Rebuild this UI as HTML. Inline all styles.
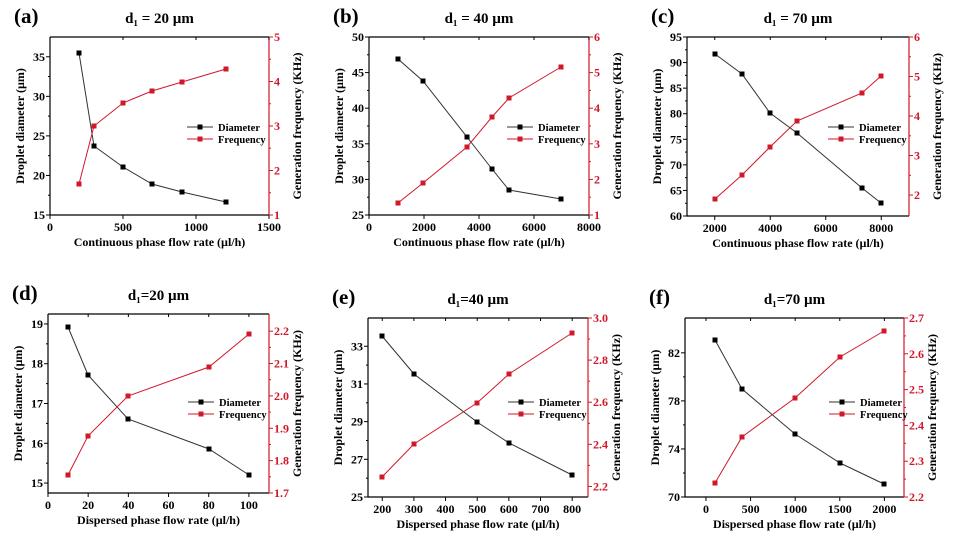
<!DOCTYPE html>
<html><head><meta charset="utf-8"><style>
html,body{margin:0;padding:0;background:#fff;width:955px;height:536px;overflow:hidden}
svg{display:block}
text{font-family:"Liberation Serif",serif;font-weight:bold}
</style></head><body>
<svg id="s" width="955" height="536" viewBox="0 0 955 536" xmlns="http://www.w3.org/2000/svg"></svg>
<script>
const R="#d0182a";
const P=[
{L:"(a)",T:"d\u2081 = 20 \u00b5m",xl:"Continuous phase flow rate (\u00b5l/h)",
 x0:50,x1:269,y0:37,y1:215,X:[0,1500],Y:[15,37.5],Y2:[1,5],
 xt:[0,500,1000,1500],yt:[15,20,25,30,35],y2t:[1,2,3,4,5],f2:0,
 D:[[79,53],[94,146],[123,167],[152,184],[182,192],[226,202]],
 F:[[79,184],[94,126],[123,103],[152,91],[182,82],[226,69]],lx:187,ly:127},
{L:"(b)",T:"d\u2081 = 40 \u00b5m",xl:"Continuous phase flow rate (\u00b5l/h)",
 x0:369,x1:589,y0:37,y1:215,X:[0,8000],Y:[25,50],Y2:[1,6],
 xt:[0,2000,4000,6000,8000],yt:[25,30,35,40,45,50],y2t:[1,2,3,4,5,6],f2:0,
 D:[[398,59],[423,81],[467,137],[492,169],[509,190],[561,199]],
 F:[[398,203],[423,183],[467,147],[492,117],[509,98],[561,67]],lx:507,ly:127},
{L:"(c)",T:"d\u2081 = 70 \u00b5m",xl:"Continuous phase flow rate (\u00b5l/h)",
 x0:687,x1:909,y0:37,y1:216,X:[1000,9000],Y:[60,95],Y2:[1.47,6],
 xt:[2000,4000,6000,8000],yt:[60,65,70,75,80,85,90,95],y2t:[2,3,4,5,6],f2:0,
 D:[[715,54],[742,74],[770,113],[797,133],[862,188],[881,203]],
 F:[[715,199],[742,175],[770,147],[797,121],[862,93],[881,76]],lx:828,ly:127},
{L:"(d)",T:"d\u2081=20 \u00b5m",xl:"Dispersed phase flow rate (\u00b5l/h)",
 x0:48,x1:269,y0:314,y1:493,X:[0,110],Y:[14.75,19.25],Y2:[1.7,2.253],
 xt:[0,20,40,60,80,100],yt:[15,16,17,18,19],y2t:[1.7,1.8,1.9,2.0,2.1,2.2],f2:1,
 D:[[68,327],[88,375],[128,419],[209,449],[249,475]],
 F:[[68,475],[88,436],[128,396],[209,367],[249,334]],lx:188,ly:402},
{L:"(e)",T:"d\u2081=40 \u00b5m",xl:"Dispersed phase flow rate (\u00b5l/h)",
 x0:368,x1:588,y0:318,y1:497,X:[155,850],Y:[25,34.5],Y2:[2.15,3.0],
 xt:[200,300,400,500,600,700,800],yt:[25,27,29,31,33],y2t:[2.2,2.4,2.6,2.8,3.0],f2:1,
 D:[[382,336],[414,374],[477,422],[509,443],[572,475]],
 F:[[382,477],[414,444],[477,403],[509,374],[572,333]],lx:508,ly:402},
{L:"(f)",T:"d\u2081=70 \u00b5m",xl:"Dispersed phase flow rate (\u00b5l/h)",
 x0:685,x1:904,y0:318,y1:497,X:[-235,2220],Y:[70,84.9],Y2:[2.2,2.7],
 xt:[0,500,1000,1500,2000],yt:[70,74,78,82],y2t:[2.2,2.3,2.4,2.5,2.6,2.7],f2:1,
 D:[[715,340],[742,389],[795,434],[840,463],[884,484]],
 F:[[715,483],[742,437],[795,398],[840,357],[884,331]],lx:829,ly:402}
];
let h="";
for(const p of P){
 const sx=v=>p.x0+(v-p.X[0])/(p.X[1]-p.X[0])*(p.x1-p.x0);
 const sy=v=>p.y1-(v-p.Y[0])/(p.Y[1]-p.Y[0])*(p.y1-p.y0);
 const sy2=v=>p.y1-(v-p.Y2[0])/(p.Y2[1]-p.Y2[0])*(p.y1-p.y0);
 const cx=(p.x0+p.x1)/2;
 h+=`<text x="${p.x0-36}" y="${p.y0-14}" font-size="21">${p.L}</text>`;
 h+=`<text x="${cx}" y="${p.y0-14}" font-size="15" text-anchor="middle">${p.T}</text>`;
 h+=`<path d="M${p.x0} ${p.y0}H${p.x1}M${p.x0} ${p.y0}V${p.y1}H${p.x1}" stroke="#000" stroke-width="1.2" fill="none"/>`;
 h+=`<line x1="${p.x1}" y1="${p.y0}" x2="${p.x1}" y2="${p.y1}" stroke="${R}" stroke-width="1.2"/>`;
 for(const t of p.xt){const x=sx(t);h+=`<line x1="${x}" y1="${p.y1}" x2="${x}" y2="${p.y1+4}" stroke="#000"/><line x1="${x}" y1="${p.y0}" x2="${x}" y2="${p.y0+3}" stroke="#000"/><text x="${x}" y="${p.y1+16}" font-size="12" text-anchor="middle">${t}</text>`;}
 for(const t of p.yt){const y=sy(t);h+=`<line x1="${p.x0-4}" y1="${y}" x2="${p.x0}" y2="${y}" stroke="#000"/><text x="${p.x0-5}" y="${y+4}" font-size="12" text-anchor="end">${t}</text>`;}
 for(let i=0;i<p.yt.length-1;i++){const y=sy((p.yt[i]+p.yt[i+1])/2);h+=`<line x1="${p.x0-2}" y1="${y}" x2="${p.x0}" y2="${y}" stroke="#000"/>`;}
 for(const t of p.y2t){const y=sy2(t);h+=`<line x1="${p.x1}" y1="${y}" x2="${p.x1+4}" y2="${y}" stroke="${R}"/><text x="${p.x1+5}" y="${y+4}" font-size="12" fill="${R}">${p.f2?t.toFixed(1):t}</text>`;}
 for(let i=0;i<p.y2t.length-1;i++){const y=sy2((p.y2t[i]+p.y2t[i+1])/2);h+=`<line x1="${p.x1}" y1="${y}" x2="${p.x1+2}" y2="${y}" stroke="${R}"/>`;}
 h+=`<text x="${cx}" y="${p.y1+31}" font-size="12" text-anchor="middle">${p.xl}</text>`;
 const my=(p.y0+p.y1)/2;
 h+=`<text transform="translate(${p.x0-26},${my}) rotate(-90)" font-size="12" text-anchor="middle">Droplet diameter (\u00b5m)</text>`;
 h+=`<text transform="translate(${p.x1+32},${my}) rotate(-90)" font-size="12" text-anchor="middle">Generation frequency (KHz)</text>`;
 h+=`<polyline points="${p.D.map(a=>a.join(',')).join(' ')}" fill="none" stroke="#333" stroke-width="1"/>`;
 h+=`<polyline points="${p.F.map(a=>a.join(',')).join(' ')}" fill="none" stroke="${R}" stroke-width="1"/>`;
 for(const a of p.D)h+=`<rect x="${a[0]-2.5}" y="${a[1]-2.5}" width="5" height="5" fill="#000"/>`;
 for(const a of p.F)h+=`<rect x="${a[0]-2.5}" y="${a[1]-2.5}" width="5" height="5" fill="${R}"/>`;
 h+=`<line x1="${p.lx}" y1="${p.ly}" x2="${p.lx+26}" y2="${p.ly}" stroke="#333"/><rect x="${p.lx+10.5}" y="${p.ly-2.5}" width="5" height="5"/>`;
 h+=`<line x1="${p.lx}" y1="${p.ly+12}" x2="${p.lx+26}" y2="${p.ly+12}" stroke="${R}"/><rect x="${p.lx+10.5}" y="${p.ly+9.5}" width="5" height="5" fill="${R}"/>`;
 h+=`<text x="${p.lx+31}" y="${p.ly+4}" font-size="10.5">Diameter</text><text x="${p.lx+31}" y="${p.ly+16}" font-size="10.5">Frequency</text>`;
}
document.getElementById("s").innerHTML=h;
</script>
</body></html>
